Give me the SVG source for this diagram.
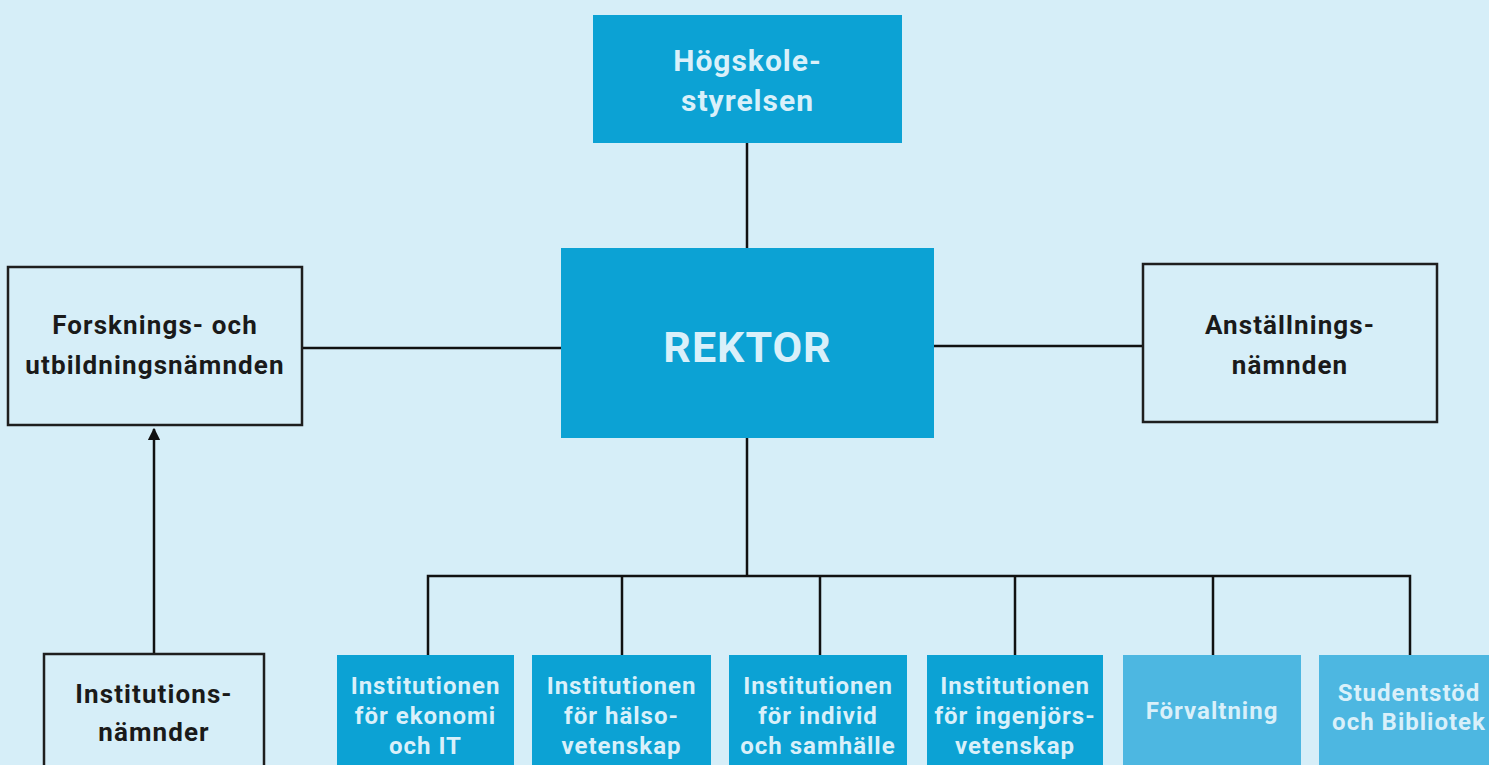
<svg xmlns="http://www.w3.org/2000/svg" width="1489" height="765" viewBox="0 0 1489 765">
<defs>
<style>
.bg{fill:#d6eef8}
.dark{fill:#0ca2d4}
.light{fill:#4db7e1}
.white{fill:#d6eef8;stroke:#1e1e1e;stroke-width:2.5}
.t{font-family:Roboto,"Liberation Sans",sans-serif;font-weight:bold;text-anchor:middle}
.tw{fill:#d9f0fa}
.tb{fill:#1a1a1a}
.s1{font-size:26px;letter-spacing:1.1px}
.s2{font-size:24px;letter-spacing:1px}
.c{stroke:#111;stroke-width:2.5;fill:none}
</style>
<marker id="ah" viewBox="0 0 10 10" refX="9" refY="5" markerWidth="5" markerHeight="5" orient="auto" markerUnits="strokeWidth">
<path d="M0,0 L10,5 L0,10 z" fill="#111"/>
</marker>
</defs>
<rect class="bg" x="0" y="0" width="1489" height="765"/>
<g id="connectors">
<line class="c" x1="747" y1="143" x2="747" y2="248"/>
<line class="c" x1="302" y1="348" x2="561" y2="348"/>
<line class="c" x1="934" y1="346" x2="1143" y2="346"/>
<line class="c" x1="747" y1="438" x2="747" y2="576"/>
<path class="c" d="M428,655 V576 H1410 V655"/>
<line class="c" x1="622" y1="576" x2="622" y2="655"/>
<line class="c" x1="820" y1="576" x2="820" y2="655"/>
<line class="c" x1="1015" y1="576" x2="1015" y2="655"/>
<line class="c" x1="1213" y1="576" x2="1213" y2="655"/>
<line class="c" x1="154" y1="654" x2="154" y2="429" marker-end="url(#ah)"/>
</g>
<g id="hogskolestyrelsen">
<rect class="dark" x="593" y="15" width="309" height="128"/>
<text class="t tw" font-size="30" letter-spacing="1" x="747.5" y="71">Högskole-</text>
<text class="t tw" font-size="30" letter-spacing="1" x="747.5" y="111">styrelsen</text>
</g>
<g id="rektor">
<rect class="dark" x="561" y="248" width="373" height="190"/>
<text class="t tw" font-size="43" letter-spacing="1" x="747.5" y="362">REKTOR</text>
</g>
<g id="forskning">
<rect class="white" x="8" y="267" width="294" height="158"/>
<text class="t tb s1" x="155" y="334">Forsknings- och</text>
<text class="t tb s1" x="155" y="374">utbildningsnämnden</text>
</g>
<g id="anstallning">
<rect class="white" x="1143" y="264" width="294" height="158"/>
<text class="t tb s1" x="1290" y="334">Anställnings-</text>
<text class="t tb s1" x="1290" y="374">nämnden</text>
</g>
<g id="institutionsnamnder">
<rect class="white" x="44" y="654" width="220" height="130"/>
<text class="t tb s1" x="154" y="703">Institutions-</text>
<text class="t tb s1" x="154" y="741">nämnder</text>
</g>
<g id="inst-ekonomi">
<rect class="dark" x="337" y="655" width="177" height="120"/>
<text class="t tw s2" x="425.5" y="694">Institutionen</text>
<text class="t tw s2" x="425.5" y="724">för ekonomi</text>
<text class="t tw s2" x="425.5" y="754">och IT</text>
</g>
<g id="inst-halso">
<rect class="dark" x="532" y="655" width="179" height="120"/>
<text class="t tw s2" x="621.5" y="694">Institutionen</text>
<text class="t tw s2" x="621.5" y="724">för hälso-</text>
<text class="t tw s2" x="621.5" y="754">vetenskap</text>
</g>
<g id="inst-individ">
<rect class="dark" x="729" y="655" width="178" height="120"/>
<text class="t tw s2" x="818" y="694">Institutionen</text>
<text class="t tw s2" x="818" y="724">för individ</text>
<text class="t tw s2" x="818" y="754">och samhälle</text>
</g>
<g id="inst-ingenjor">
<rect class="dark" x="927" y="655" width="176" height="120"/>
<text class="t tw s2" x="1015" y="694">Institutionen</text>
<text class="t tw s2" x="1015" y="724">för ingenjörs-</text>
<text class="t tw s2" x="1015" y="754">vetenskap</text>
</g>
<g id="forvaltning">
<rect class="light" x="1123" y="655" width="178" height="120"/>
<text class="t tw s2" x="1212" y="719">Förvaltning</text>
</g>
<g id="studentstod">
<rect class="light" x="1319" y="655" width="180" height="120"/>
<text class="t tw s2" x="1409" y="701">Studentstöd</text>
<text class="t tw s2" x="1409" y="730">och Bibliotek</text>
</g>
</svg>
